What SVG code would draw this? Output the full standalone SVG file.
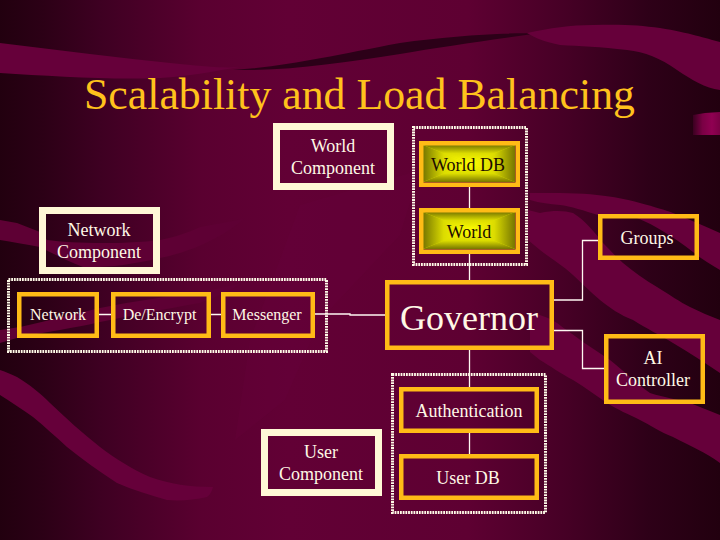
<svg xmlns="http://www.w3.org/2000/svg" width="720" height="540" viewBox="0 0 720 540">
<defs>
<linearGradient id="bg" x1="0" y1="0" x2="1" y2="0">
<stop offset="0" stop-color="#22000f"/><stop offset="0.06" stop-color="#2c0016"/><stop offset="0.14" stop-color="#3e0022"/><stop offset="0.28" stop-color="#5a0030"/><stop offset="0.4" stop-color="#620035"/><stop offset="0.65" stop-color="#5e0032"/><stop offset="0.78" stop-color="#470026"/><stop offset="0.9" stop-color="#2e0018"/><stop offset="1" stop-color="#22000f"/>
</linearGradient>
<linearGradient id="pink" x1="0" y1="0" x2="1" y2="0"><stop offset="0" stop-color="#3a0020"/><stop offset="0.35" stop-color="#7a0044"/><stop offset="0.7" stop-color="#900052"/><stop offset="1" stop-color="#7a0044"/></linearGradient>
<linearGradient id="gt" x1="0" y1="0" x2="0" y2="1"><stop offset="0" stop-color="#767600"/><stop offset="0.45" stop-color="#dcdc00"/><stop offset="1" stop-color="#ffff00"/></linearGradient>
<linearGradient id="gb" x1="0" y1="1" x2="0" y2="0"><stop offset="0" stop-color="#767600"/><stop offset="0.45" stop-color="#dcdc00"/><stop offset="1" stop-color="#ffff00"/></linearGradient>
<linearGradient id="gl" x1="0" y1="0" x2="1" y2="0"><stop offset="0" stop-color="#767600"/><stop offset="0.45" stop-color="#dcdc00"/><stop offset="1" stop-color="#ffff00"/></linearGradient>
<linearGradient id="gr" x1="1" y1="0" x2="0" y2="0"><stop offset="0" stop-color="#767600"/><stop offset="0.45" stop-color="#dcdc00"/><stop offset="1" stop-color="#ffff00"/></linearGradient>
<g id="glow">
<rect x="0" y="0" width="92" height="37" fill="#dcdc00"/>
<polygon points="0,0 92,0 46,18.5" fill="url(#gt)"/>
<polygon points="0,37 92,37 46,18.5" fill="url(#gb)"/>
<polygon points="0,0 0,37 46,18.5" fill="url(#gl)"/>
<polygon points="92,0 92,37 46,18.5" fill="url(#gr)"/>
</g>
</defs>
<style>
.o{fill:none;stroke:#ffbb16;stroke-width:4.5}
.c{fill:none;stroke:#fff8d6;stroke-width:7}
.d{fill:none;stroke:#fffbe8;stroke-width:3;stroke-dasharray:1.8 0.9}
.l{fill:none;stroke:#fff8f2;stroke-width:1.3}
text{font-family:"Liberation Serif","Times New Roman",serif;text-anchor:middle;fill:#fff8e6}
.t{font-size:18px}
.s{font-size:16px}
.k{font-size:18px;fill:#1c0c00}
.band{fill:#66003a}
.dark{fill:#2c0018}
</style>
<g id="background">
<rect width="720" height="540" fill="url(#bg)"/>
<path class="band" opacity="0.3" d="M250,340 L300,205 L420,170 L400,235 L320,320 L285,400 L235,440Z"/>
<path class="dark" d="M233,70 C290,66 330,56 400,43 C450,36 500,33 540,33 C490,40 440,47 400,54 C340,63 290,71 233,70Z"/>
<path class="band" d="M0,43 C60,50 120,58 180,64 C210,67 225,68 240,67 C210,72 190,76 160,78 C110,80 50,76 0,73Z"/>
<path class="band" d="M527,33 C550,28 570,25 593,25 C620,24 640,25 660,28 C690,33 705,38 720,42 L720,90 C705,88 692,80 677,70 C660,58 645,52 627,50 C600,47 580,46 560,45 C545,42 535,38 527,33Z"/>
<polygon points="693,115 705,113 720,112 720,135 693,135" fill="url(#pink)"/>
<path class="band" d="M530,193 C560,193 580,193 597,195 C615,197 625,199 640,203 C655,207 665,210 673,213 C690,220 705,226 720,233 L720,270 C710,264 700,258 693,252 C675,238 655,225 637,218 C625,215 610,216 598,215 C585,211 570,206 560,205 C550,204 540,203 530,200Z"/>
<path class="band" d="M528,210 L540,213 C555,210 565,211 573,213 C585,220 595,233 603,243 C610,250 616,257 623,263 C633,271 645,280 657,287 C670,295 680,302 690,307 C700,312 710,316 720,320 L720,373 C705,363 690,353 673,343 C660,335 647,329 633,320 C620,315 610,308 600,300 C590,292 582,283 573,275 C562,265 550,258 540,250 L528,240Z"/>
<path class="band" d="M530,312 C540,315 550,318 557,323 C565,329 575,336 583,342 C592,348 601,354 610,360 C625,372 637,384 650,393 C665,398 678,399 690,403 C700,407 710,411 720,415 L720,463 C705,452 690,446 673,437 C660,432 650,425 640,420 C628,414 618,410 607,403 C595,395 585,387 573,380 C560,373 550,366 540,360 L530,352Z"/>
<path fill="#5e0034" d="M0,220 L17,223 L40,232 L47,240 C70,243 120,245 160,240 C175,237 190,232 200,227 C210,225 230,222 245,218 C230,232 200,250 160,258 C130,265 105,268 83,267 C65,260 50,252 40,247 C25,244 12,242 0,240Z"/>
<path fill="#5e0034" d="M0,330 L20,327 C50,320 75,314 100,308 C135,301 170,296 200,292 C215,289 230,286 245,282 C230,290 215,298 200,303 C165,309 130,316 100,322 C75,328 45,332 20,337 L0,343Z"/>
<path class="band" d="M0,370 C6,372 11,374 17,377 C30,385 40,393 50,403 C66,418 82,433 100,447 C116,459 132,469 150,477 C170,484 190,487 213,487 C212,491 210,495 207,497 C195,500 180,501 167,500 C150,495 133,490 117,483 C100,472 83,460 67,447 C55,436 45,427 33,417 C22,409 11,402 0,395Z"/>
</g>
<text id="title" x="359.500" y="109" style="font-size:43.8px;fill:#ffc21c">Scalability and Load Balancing</text>
<g id="connectors">
<path class="l" d="M469.500,187V208M469.500,254V280M469.500,350V387M469.500,433V454"/>
<path class="l" d="M99,314.500H111M211,314.500H221M315,314H350V315H385"/>
<path class="l" d="M554,300H582.500V240.500H598M554,330.500H582.500V368.500H604"/>
</g>
<g id="dotted-world"><rect class="d" x="413.500" y="127.500" width="113" height="137"/></g>
<g id="dotted-network"><rect class="d" x="8.500" y="279.500" width="318" height="72"/></g>
<g id="dotted-user"><rect class="d" x="392.500" y="374.500" width="153" height="138"/></g>
<g id="world-component"><rect class="c" x="276.500" y="126.500" width="114" height="60"/><text class="t" x="333" y="152">World</text><text class="t" x="333" y="174">Component</text></g>
<g id="world-db"><use href="#glow" x="423" y="145"/><rect class="o" x="421.250" y="143.250" width="96.500" height="41.500"/><text class="k" x="468" y="171">World DB</text></g>
<g id="world"><use href="#glow" x="423" y="212"/><rect class="o" x="421.250" y="210.250" width="96.500" height="41.500"/><text class="k" x="469" y="238">World</text></g>
<g id="network-component"><rect class="c" x="42.500" y="210.500" width="114" height="60"/><text class="t" x="99" y="236">Network</text><text class="t" x="99" y="258">Component</text></g>
<g id="network"><rect class="o" x="19.250" y="294.250" width="77.500" height="41.500"/><text class="s" x="58" y="320">Network</text></g>
<g id="de-encrypt"><rect class="o" x="113.250" y="294.250" width="95.500" height="41.500"/><text class="s" x="159.500" y="320">De/Encrypt</text></g>
<g id="messenger"><rect class="o" x="223.250" y="294.250" width="89.500" height="41.500"/><text class="s" x="267" y="320">Messenger</text></g>
<g id="governor"><rect class="o" x="387.250" y="282.250" width="164.500" height="65.500"/><text x="469" y="330" style="font-size:36px">Governor</text></g>
<g id="groups"><rect class="o" x="600.250" y="216.250" width="96.500" height="41.500"/><text class="t" x="647" y="244">Groups</text></g>
<g id="ai-controller"><rect class="o" x="606.250" y="336.250" width="96.500" height="65.500"/><text class="t" x="653" y="364">AI</text><text class="t" x="653" y="386">Controller</text></g>
<g id="authentication"><rect class="o" x="401.250" y="389.250" width="135.500" height="41.500"/><text class="t" x="469" y="417">Authentication</text></g>
<g id="user-db"><rect class="o" x="401.250" y="456.250" width="135.500" height="41.500"/><text class="t" x="468" y="484">User DB</text></g>
<g id="user-component"><rect class="c" x="264.500" y="432.500" width="114" height="60"/><text class="t" x="321" y="458">User</text><text class="t" x="321" y="480">Component</text></g>
</svg>
